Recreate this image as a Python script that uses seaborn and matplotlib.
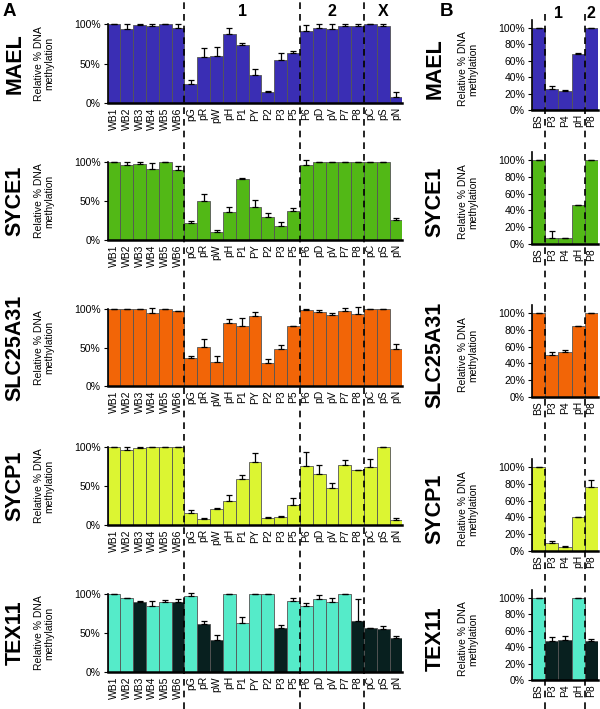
import numpy as np
import seaborn as sns
import matplotlib.pyplot as plt
from matplotlib.lines import Line2D
from matplotlib import transforms

sns.set_style("ticks")
plt.rcParams['font.family'] = ['Liberation Sans', 'DejaVu Sans']
plt.rcParams['text.color'] = 'black'
plt.rcParams['axes.edgecolor'] = 'black'
plt.rcParams['xtick.color'] = 'black'
plt.rcParams['ytick.color'] = 'black'
plt.rcParams['axes.labelcolor'] = 'black'

# ---------------- data ----------------
samples_a = ["WB1", "WB2", "WB3", "WB4", "WB5", "WB6",
             "pG", "pR", "pW", "pH", "P1", "PY", "P2", "P3", "P5",
             "P6", "pD", "pV", "P7", "P8",
             "pC", "pS", "pN"]
group_names_a = ["1", "2", "X"]
group_center_a = [10, 17, 21]
group_bounds_a = [5.5, 14.5, 19.5]

samples_b = ["BS", "P3", "P4", "pH", "P8"]
group_names_b = ["1", "2"]
group_center_b = [1.5, 4]
group_bounds_b = [0.5, 3.5]

genes = ["MAEL", "SYCE1", "SLC25A31", "SYCP1", "TEX11"]

mael_a = [100, 94, 98.7, 98, 99.5, 95, 23.6, 58, 60, 87, 74, 35, 14, 54.5, 63,
          91, 95, 94, 98, 98, 99.5, 97.5, 7.3]
mael_a_err = [0.5, 6, 1.5, 1.5, 0.3, 5, 5, 12, 11, 8, 2, 8, 1.5, 9, 3,
              8, 5, 5.5, 2, 2.5, 0.3, 3, 7]
syce1_a = [100, 96, 98, 90.5, 100, 89.7, 21.5, 50, 10, 35.6, 78.5, 42.5, 29, 18.5, 37,
           96, 100, 100, 100, 100, 100, 100, 25.8]
syce1_a_err = [0, 3.5, 2, 8, 0, 5, 3, 9, 3, 7, 1, 9, 6, 5, 4,
               6, 0, 0, 0, 0, 0, 0, 2]
slc_a = [100, 100, 100, 94.4, 100, 97, 36.2, 51, 30.6, 82.3, 78, 91.4, 29.3, 48, 78,
         99, 95.7, 92.7, 98, 94, 100, 100, 48]
slc_a_err = [0, 0, 0, 7, 0, 0, 3, 10, 8, 5, 10, 5, 6, 5, 0.5,
             1.5, 3, 1.5, 3, 9, 0, 0, 7]
sycp1_a = [100, 96.5, 98.7, 100, 100, 100, 16, 8, 20, 31, 58.6, 80.6, 9, 10, 26,
           76, 65.5, 47, 77, 70, 74, 100, 6]
sycp1_a_err = [0, 3, 1, 0, 0, 0, 3, 1, 2, 7, 5, 12, 1, 1, 9,
               18, 11.5, 7, 6.5, 1, 10, 0, 3]
tex11_a = [100, 94.4, 90, 85, 89.7, 89.7, 98, 62, 41, 100, 63, 100, 100, 56, 90.5,
           85, 93.5, 89.7, 100, 65, 56, 55, 43]
tex11_a_err = [0.5, 0.5, 1, 5.5, 3, 3.5, 3, 4, 7, 0.5, 7, 0.3, 0.3, 4, 4.5,
               3.5, 5.5, 5, 0.5, 29, 0.5, 4, 3]
tex11_dark_a = [0, 0, 1, 0, 0, 1, 0, 1, 1, 0, 0, 0, 0, 1, 0,
                0, 0, 0, 0, 1, 1, 1, 1]

mael_b = [100, 25, 23, 68.5, 100]
mael_b_err = [0.5, 4, 1, 0.5, 0.5]
syce1_b = [100, 7.5, 6.7, 46, 100]
syce1_b_err = [0.5, 7.5, 1, 0.5, 0.5]
slc_b = [100, 50, 53, 84, 100]
slc_b_err = [0.5, 4, 2.4, 0.5, 0.5]
sycp1_b = [100, 10, 5, 40, 76]
sycp1_b_err = [0.5, 2, 1.5, 0.5, 8]
tex11_b = [100, 47, 48.6, 100, 47.8]
tex11_b_err = [0.5, 5.5, 5, 0.5, 2]
tex11_dark_b = [0, 1, 1, 0, 1]

values_a = [mael_a, syce1_a, slc_a, sycp1_a, tex11_a]
errors_a = [mael_a_err, syce1_a_err, slc_a_err, sycp1_a_err, tex11_a_err]
values_b = [mael_b, syce1_b, slc_b, sycp1_b, tex11_b]
errors_b = [mael_b_err, syce1_b_err, slc_b_err, sycp1_b_err, tex11_b_err]

gene_colors = ["#3a2eb4", "#52b816", "#f26507", "#dcf532", None]
tex_light = "#55ebc9"
tex_dark = "#08201f"

# ---------------- layout (pixels) ----------------
W, H = 600, 709
fig = plt.figure(figsize=(W / 100, H / 100), dpi=100)

rows_a = [(24, 103), (162, 240), (309, 386), (447, 525), (594, 672)]
rows_b = [(28, 110), (160, 244), (313, 397), (467, 551), (598, 680)]
ax_a_x = (107.5, 295)
ax_b_x = (532, 66)


def add_ax(x, w, top, bottom):
    return fig.add_axes([x / W, 1 - bottom / H, w / W, (bottom - top) / H])


def draw(ax, labels, vals, errs, colors, ymax, yticks):
    sns.barplot(x=labels, y=vals, hue=labels, palette=colors, width=1.0,
                saturation=1, edgecolor="#555555", linewidth=0.6,
                legend=False, ax=ax)
    n = len(vals)
    eb = ax.errorbar(np.arange(n), vals, yerr=[np.zeros(n), errs], fmt="none",
                     ecolor="black", elinewidth=0.9, capsize=2.5, capthick=0.9)
    for art in eb.get_children():
        art.set_clip_on(False)
    ax.set_xlim(-0.5, n - 0.5)
    ax.set_ylim(0, ymax)
    ax.set_yticks(yticks)
    ax.set_yticklabels(["%d%%" % t for t in yticks], fontsize=7.5)
    ax.set_xlabel("")
    ax.set_ylabel("")
    ax.tick_params(axis="x", length=0, labelsize=7.5, rotation=90, pad=3)
    ax.tick_params(axis="y", length=3, width=0.8, pad=2)
    for s in ["top", "right"]:
        ax.spines[s].set_visible(False)
    ax.spines["bottom"].set_linewidth(1.8)
    ax.spines["left"].set_linewidth(1.2)
    ax.set_facecolor("none")


axes_a = []
for i, gene in enumerate(genes):
    top, bot = rows_a[i]
    ax = add_ax(ax_a_x[0], ax_a_x[1], top, bot)
    if gene == "TEX11":
        cols = [tex_dark if d else tex_light for d in tex11_dark_a]
    else:
        cols = [gene_colors[i]] * len(samples_a)
    draw(ax, samples_a, values_a[i], errors_a[i], cols, 100, [0, 50, 100])
    axes_a.append(ax)
    yc = 1 - (top + bot) / 2 / H
    fig.text(15 / W, yc, gene, rotation=90, ha="center", va="center",
             fontsize=15.5, fontweight="bold")
    fig.text(44 / W, yc, "Relative % DNA\nmethylation", rotation=90,
             ha="center", va="center", fontsize=7.5, linespacing=1.1)

axes_b = []
for i, gene in enumerate(genes):
    h100, zero = rows_b[i]
    top = zero - (zero - h100) * 1.1
    ax = add_ax(ax_b_x[0], ax_b_x[1], top, zero)
    if gene == "TEX11":
        cols = [tex_dark if d else tex_light for d in tex11_dark_b]
    else:
        cols = [gene_colors[i]] * len(samples_b)
    draw(ax, samples_b, values_b[i], errors_b[i], cols, 110, [0, 20, 40, 60, 80, 100])
    axes_b.append(ax)
    yc = 1 - (h100 + zero) / 2 / H
    fig.text(435 / W, yc, gene, rotation=90, ha="center", va="center",
             fontsize=15.5, fontweight="bold")
    fig.text(468 / W, yc, "Relative % DNA\nmethylation", rotation=90,
             ha="center", va="center", fontsize=7.5, linespacing=1.1)

# dashed group separators across the whole column
tr_a = transforms.blended_transform_factory(axes_a[0].transData, fig.transFigure)
for xb in group_bounds_a:
    fig.add_artist(Line2D([xb, xb], [0, 1], transform=tr_a, color="black",
                          lw=1.2, ls=(0, (4, 3))))
for name, xc in zip(group_names_a, group_center_a):
    fig.text(xc, 1 - 12 / H, name, transform=tr_a, ha="center", va="center",
             fontsize=11.5, fontweight="bold")

tr_b = transforms.blended_transform_factory(axes_b[0].transData, fig.transFigure)
for xb in group_bounds_b:
    fig.add_artist(Line2D([xb, xb], [0, 1 - 10 / H], transform=tr_b, color="black",
                          lw=1.2, ls=(0, (4, 3))))
for name, xc in zip(group_names_b, group_center_b):
    fig.text(xc, 1 - 14 / H, name, transform=tr_b, ha="center", va="center",
             fontsize=11.5, fontweight="bold")

fig.text(3 / W, 1 - 12 / H, "A", ha="left", va="center", fontsize=13.5, fontweight="bold")
fig.text(440 / W, 1 - 12 / H, "B", ha="left", va="center", fontsize=13.5, fontweight="bold")

fig.savefig("out.png", dpi=100)
